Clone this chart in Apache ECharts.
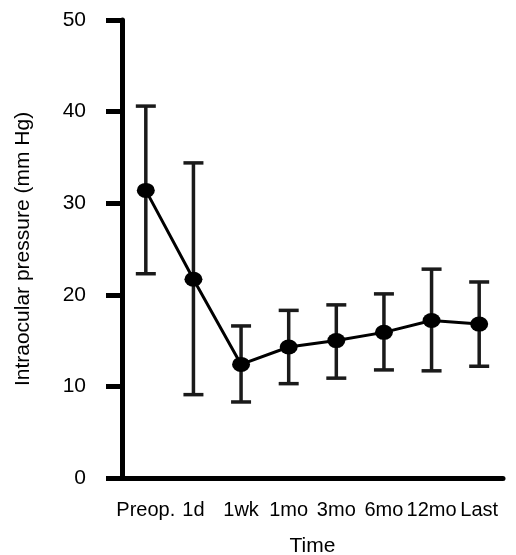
<!DOCTYPE html>
<html>
<head>
<meta charset="utf-8">
<title>IOP over time</title>
<script src="https://cdn.jsdelivr.net/npm/echarts@6/dist/echarts.min.js"></script>
<style>
  html, body { margin: 0; padding: 0; background: #fff; }
  #chart { width: 516px; height: 555px; }
</style>
</head>
<body>
<div id="chart"></div>
<script>
// time points
const categories = ['Preop.', '1d', '1wk', '1mo', '3mo', '6mo', '12mo', 'Last']
// mean IOP (mm Hg)
const means = [31.4, 21.7, 12.4, 14.3, 15.0, 15.9, 17.2, 16.8]
// error bar ends
const lows = [22.3, 9.1, 8.3, 10.3, 10.9, 11.8, 11.7, 12.2]
const highs = [40.6, 34.4, 16.6, 18.3, 18.9, 20.1, 22.8, 21.4]
// y axis ticks
const yTicks = [0, 10, 20, 30, 40, 50]

const font = 'Liberation Sans, Arial, sans-serif'
const ink = '#000'

const chart = echarts.init(document.getElementById('chart'))

// error bar: vertical line plus caps
const renderErrorBar = (params, api) => {
  const lo = api.coord([api.value(0), api.value(1)])
  const hi = api.coord([api.value(0), api.value(2)])
  const half = 10
  const style = { stroke: '#1a1a1a', lineWidth: 3.5 }
  return {
    type: 'group',
    children: [
      { type: 'line', shape: { x1: lo[0], y1: lo[1], x2: hi[0], y2: hi[1] }, style },
      { type: 'line', shape: { x1: hi[0] - half, y1: hi[1], x2: hi[0] + half, y2: hi[1] }, style },
      { type: 'line', shape: { x1: lo[0] - half, y1: lo[1], x2: lo[0] + half, y2: lo[1] }, style }
    ]
  }
}

const option = {
  animation: false,
  grid: { left: 122, right: 13, top: 20, bottom: 77, containLabel: false, outerBoundsMode: 'none' },
  xAxis: {
    type: 'category',
    data: categories,
    boundaryGap: true,
    name: 'Time',
    nameLocation: 'middle',
    nameGap: 58,
    nameTextStyle: { fontFamily: font, fontSize: 21, color: ink },
    axisLine: { lineStyle: { color: ink, width: 5 } },
    axisTick: { alignWithLabel: true, length: 15, lineStyle: { color: ink, width: 5 } },
    axisLabel: { interval: 0, margin: 22, fontFamily: font, fontSize: 20, color: ink },
    splitLine: { show: false }
  },
  yAxis: {
    type: 'value',
    min: yTicks[0],
    max: yTicks[yTicks.length - 1],
    interval: 10,
    name: 'Intraocular pressure (mm Hg)',
    nameLocation: 'middle',
    nameGap: 88,
    nameTextStyle: { fontFamily: font, fontSize: 21, color: ink },
    axisLine: { show: true, lineStyle: { color: ink, width: 5 } },
    axisTick: { show: true, length: 16, lineStyle: { color: ink, width: 5 } },
    axisLabel: { margin: 36, fontFamily: font, fontSize: 21, color: ink },
    splitLine: { show: false }
  },
  series: [
    {
      type: 'custom',
      renderItem: renderErrorBar,
      data: categories.map((c, i) => [i, lows[i], highs[i]]),
      z: 2
    },
    {
      type: 'line',
      data: means,
      symbol: 'circle',
      symbolSize: [18, 15],
      lineStyle: { color: ink, width: 3 },
      itemStyle: { color: ink },
      z: 3
    }
  ]
}

chart.setOption(option)
</script>
</body>
</html>
